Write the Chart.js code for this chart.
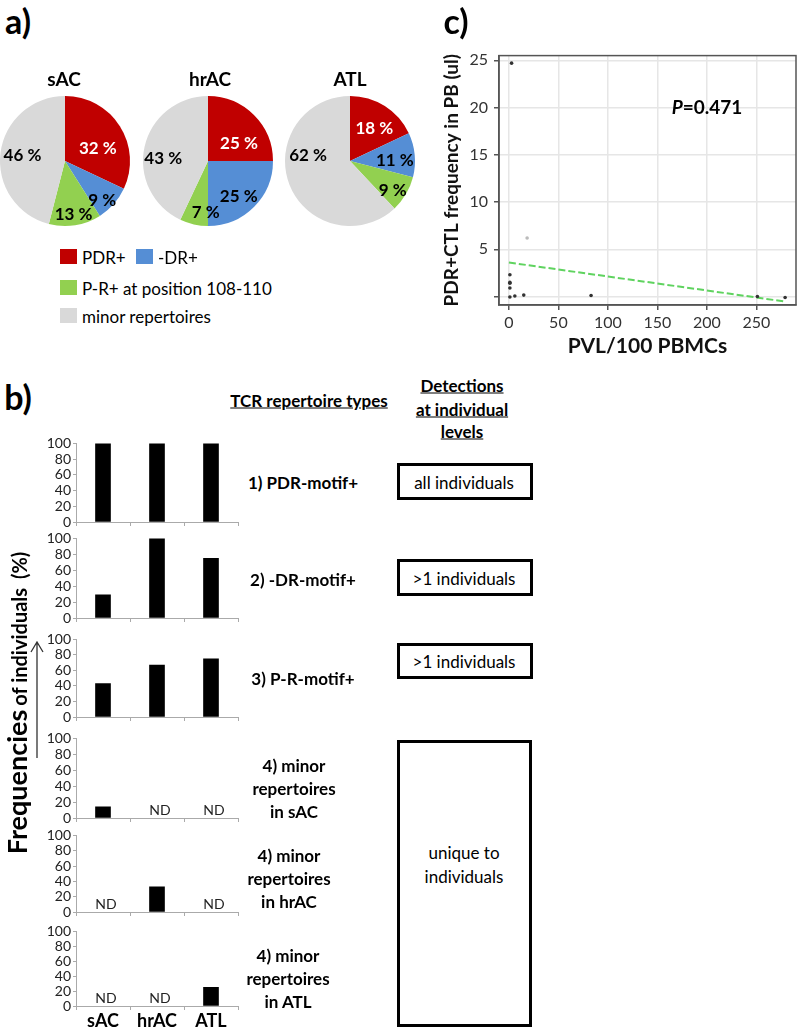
<!DOCTYPE html>
<html>
<head>
<meta charset="utf-8">
<script src="https://cdn.jsdelivr.net/npm/chart.js@4"></script>
<style>
  body { margin: 0; background: #fff; font-family: Lato, sans-serif; }
  #page { position: relative; width: 800px; height: 1029px; overflow: hidden; }
  canvas { position: absolute; }
  .t { position: absolute; transform: translate(-50%, -50%); white-space: nowrap; color: #000; line-height: 1; }
  .b { font-weight: bold; }
  .u { text-decoration: underline; }
  .box { position: absolute; border: 3px solid #000; box-sizing: border-box; }
  .sw { position: absolute; width: 17px; height: 15px; }
</style>
</head>
<body>
<div id="page"></div>
<script>
// ---- panel a: repertoire shares (%) ----
const groups = ['sAC', 'hrAC', 'ATL'];
const sliceLabels = ['PDR+', '-DR+', 'P-R+ at position 108-110', 'minor repertoires'];
const sacShares = [32, 9, 13, 46];
const hracShares = [25, 25, 7, 43];
const atlShares = [18, 11, 9, 62];

// ---- panel b: frequencies of individuals (%), null = ND ----
const pdrFreq = [100, 100, 100];
const drFreq = [29, 100, 75];
const prFreq = [43, 67, 75];
const minorSacFreq = [14, null, null];
const minorHracFreq = [null, 33, null];
const minorAtlFreq = [null, null, 25];
const freqTicks = [0, 20, 40, 60, 80, 100];

// ---- panel c: PVL vs PDR+ CTL frequency ----
const pvl = [2.7, 1, 1, 1, 1, 1, 6, 15, 18.4, 83, 251, 279];
const ctlFreq = [24.7, 2.3, 1.5, 1.4, 0.9, -0.05, 0.05, 0.15, 6.2, 0.1, 0, -0.1];
const fitPvl = [0, 280];
const fitFreq = [3.6, -0.55];
const pvlTicks = [0, 50, 100, 150, 200, 250];
const ctlTicks = [0, 5, 10, 15, 20, 25];

const sliceColors = ['#c00000', '#558ed5', '#92d050', '#d9d9d9'];

Chart.defaults.font.family = 'Lato';

var page = document.getElementById('page');

var makeCanvas = function (left, top, w, h) {
    var c = document.createElement('canvas');
    c.width = w;
    c.height = h;
    c.style.left = left + 'px';
    c.style.top = top + 'px';
    page.appendChild(c);
    return c;
};

var addText = function (x, y, html, cls, css) {
    var d = document.createElement('div');
    d.className = 't ' + (cls || '');
    d.innerHTML = html;
    d.style.left = x + 'px';
    d.style.top = y + 'px';
    if (css) d.style.cssText += css;
    page.appendChild(d);
    return d;
};

// percent labels inside the slices, [radius fraction, angle shift in deg]
const sliceText = {
    id: 'sliceText',
    afterDatasetsDraw(chart, args, opts) {
        var ctx = chart.ctx;
        var values = chart.data.datasets[0].data;
        ctx.save();
        ctx.font = 'bold 17px Lato';
        ctx.textAlign = 'center';
        ctx.textBaseline = 'middle';
        chart.getDatasetMeta(0).data.forEach(function (arc, i) {
            var p = arc.getProps(['x', 'y', 'startAngle', 'endAngle', 'outerRadius'], true);
            var spot = opts.spots[i];
            var a = (p.startAngle + p.endAngle) / 2 + spot[1] * Math.PI / 180;
            var r = p.outerRadius * spot[0];
            ctx.fillStyle = i === 0 ? '#fff' : '#000';
            ctx.fillText(values[i] + ' %', p.x + Math.cos(a) * r, p.y + Math.sin(a) * r);
        });
        ctx.restore();
    }
};

var createPie = function (cx, cy, shares, spots) {
    return new Chart(makeCanvas(cx - 75, cy - 75, 150, 150), {
        type: 'pie',
        data: {
            labels: sliceLabels,
            datasets: [{ data: shares, backgroundColor: sliceColors, borderWidth: 0, hoverOffset: 0 }]
        },
        options: {
            responsive: false,
            animation: false,
            layout: { padding: 10 },
            plugins: { legend: { display: false }, tooltip: { enabled: false }, sliceText: { spots: spots } }
        },
        plugins: [sliceText]
    });
};

createPie(65, 161, sacShares, [[0.54, 12], [0.83, 5], [0.84, 0], [0.66, 0]]);
createPie(208, 161, hracShares, [[0.55, 15], [0.72, 4], [0.79, -10], [0.69, -9]]);
createPie(350, 161, atlShares, [[0.63, 4], [0.69, 5], [0.8, 4], [0.65, 29]]);

addText(18, 21, 'a)', 'b', 'font-size:34px');
addText(64, 78, groups[0], 'b', 'font-size:19px');
addText(210, 78, groups[1], 'b', 'font-size:19px');
addText(350, 78, groups[2], 'b', 'font-size:19px');

// legend
var legendSpots = [[60, 249], [136, 249], [60, 280], [60, 308]];
sliceLabels.forEach(function (lab, i) {
    var sw = document.createElement('div');
    sw.className = 'sw';
    sw.style.left = legendSpots[i][0] + 'px';
    sw.style.top = legendSpots[i][1] + 'px';
    sw.style.background = sliceColors[i];
    page.appendChild(sw);
    addText(legendSpots[i][0] + 22, legendSpots[i][1] + 8, lab, '', 'font-size:17px;transform:translate(0,-50%)');
});

// ---- panel c ----
const frameBox = {
    id: 'frameBox',
    afterDraw(chart) {
        var a = chart.chartArea, ctx = chart.ctx;
        ctx.save();
        ctx.strokeStyle = '#555';
        ctx.lineWidth = 1.5;
        ctx.strokeRect(a.left, a.top, a.right - a.left, a.bottom - a.top);
        ctx.restore();
    }
};

new Chart(makeCanvas(430, 40, 370, 320), {
    type: 'scatter',
    data: {
        datasets: [{
            data: pvl.map(function (v, i) { return { x: v, y: ctlFreq[i] }; }),
            pointRadius: 1.8,
            pointBorderWidth: 0,
            pointBackgroundColor: pvl.map(function (v, i) { return i === 8 ? '#bbb' : '#333'; })
        }, {
            type: 'line',
            data: fitPvl.map(function (v, i) { return { x: v, y: fitFreq[i] }; }),
            borderColor: '#5fd35f',
            borderWidth: 2,
            borderDash: [7, 3],
            pointRadius: 0,
            fill: false
        }]
    },
    options: {
        responsive: false,
        animation: false,
        layout: { padding: { top: 12, right: 2 } },
        plugins: { legend: { display: false }, tooltip: { enabled: false } },
        scales: {
            x: {
                type: 'linear', min: -10, max: 290,
                afterBuildTicks: function (s) { s.ticks = pvlTicks.map(function (v) { return { value: v }; }); },
                grid: { color: '#e6e6e6', lineWidth: 1.5, tickLength: 5, tickColor: '#555' },
                border: { color: '#555', width: 1.5 },
                ticks: { font: { size: 16 }, color: '#333', padding: 3, maxRotation: 0, autoSkip: false },
                title: { display: true, text: 'PVL/100 PBMCs', color: '#111', font: { size: 21, weight: 'bold' }, padding: { top: 0, bottom: 1 } },
                afterFit: function (s) { s.height = 55; }
            },
            y: {
                type: 'linear', min: -0.9, max: 25.5,
                afterBuildTicks: function (s) { s.ticks = ctlTicks.map(function (v) { return { value: v }; }); },
                grid: { color: '#e6e6e6', lineWidth: 1.5, tickLength: 5, tickColor: '#555' },
                border: { color: '#555', width: 1.5 },
                ticks: { font: { size: 16 }, color: '#333', padding: 6, autoSkip: false, callback: function (v) { return v === 0 ? '' : v; } },
                title: { display: true, text: 'PDR+CTL frequency in PB (ul)', color: '#111', font: { size: 19, weight: 'bold' }, padding: { top: 10, bottom: 0 } },
                afterFit: function (s) { s.width = 69; }
            }
        }
    },
    plugins: [frameBox]
});

addText(456, 21, 'c)', 'b', 'font-size:34px');
addText(707, 106, '<i>P</i>=0.471', 'b', 'font-size:19px');

// ---- panel b ----
const notDetected = {
    id: 'notDetected',
    afterDatasetsDraw(chart) {
        var ctx = chart.ctx;
        var xs = chart.scales.x, ys = chart.scales.y;
        ctx.save();
        ctx.font = '14px Lato';
        ctx.fillStyle = '#222';
        ctx.textAlign = 'center';
        ctx.textBaseline = 'bottom';
        chart.data.datasets[0].data.forEach(function (v, i) {
            if (v === null) ctx.fillText('ND', xs.getPixelForValue(i) + 3, ys.getPixelForValue(0) - 1);
        });
        ctx.restore();
    }
};

var createBars = function (top100, zero, values, last) {
    var xh = last ? 23 : 5;
    return new Chart(makeCanvas(0, top100 - 9, 245, 9 + (zero - top100) + xh + (last ? 0 : 8)), {
        type: 'bar',
        data: { labels: groups, datasets: [{ data: values, backgroundColor: '#000', barThickness: 15 }] },
        options: {
            responsive: false,
            animation: false,
            layout: { padding: { top: 9, right: 7, bottom: last ? 0 : 8 } },
            plugins: { legend: { display: false }, tooltip: { enabled: false } },
            scales: {
                x: {
                    grid: { display: true, drawOnChartArea: false, tickLength: 4, color: '#aaa', offset: true },
                    border: { color: '#aaa' },
                    ticks: { display: last, color: '#000', font: { size: 18, weight: 'bold' }, padding: 0 },
                    afterFit: function (s) { s.height = xh; }
                },
                y: {
                    min: 0, max: 100,
                    afterBuildTicks: function (s) { s.ticks = freqTicks.map(function (v) { return { value: v }; }); },
                    grid: { drawOnChartArea: false, tickLength: 3, color: '#aaa' },
                    border: { color: '#aaa' },
                    ticks: { color: '#222', font: { size: 14 }, padding: 2, autoSkip: false },
                    afterFit: function (s) { s.width = 76; }
                }
            }
        },
        plugins: [notDetected]
    });
};

createBars(442, 522, pdrFreq, false);
createBars(537, 618, drFreq, false);
createBars(638, 717, prFreq, false);
createBars(737, 818, minorSacFreq, false);
createBars(834, 912, minorHracFreq, false);
createBars(930, 1006, minorAtlFreq, true);

addText(18, 397, 'b)', 'b', 'font-size:34px');
addText(16, 703, '<span style="font-size:27px">Frequencies</span> <span style="font-size:20px">of individuals</span> <span style="font-size:20px">&nbsp;(%)</span>', 'b', 'transform:translate(-50%,-50%) rotate(-90deg)');

var svg = document.createElementNS('http://www.w3.org/2000/svg', 'svg');
svg.setAttribute('width', '60');
svg.setAttribute('height', '800');
svg.style.cssText = 'position:absolute;left:0;top:0';
svg.innerHTML = '<path d="M37 758 L37 642 M31 652 L37 642 L43 652" stroke="#333" stroke-width="1.3" fill="none"/>';
page.appendChild(svg);

addText(309, 400, 'TCR repertoire types', 'b u', 'font-size:17px');
addText(462, 385, 'Detections', 'b u', 'font-size:17px');
addText(462, 409, 'at individual', 'b u', 'font-size:17px');
addText(462, 431, 'levels', 'b u', 'font-size:17px');

addText(303, 482, '1) PDR-motif+', 'b', 'font-size:17px');
addText(303, 579, '2) -DR-motif+', 'b', 'font-size:17px');
addText(303, 678, '3) P-R-motif+', 'b', 'font-size:17px');
addText(294, 788, '4) minor<br>repertoires<br>in sAC', 'b', 'font-size:17px;text-align:center;line-height:23px');
addText(289, 878, '4) minor<br>repertoires<br>in hrAC', 'b', 'font-size:17px;text-align:center;line-height:23px');
addText(288, 978, '4) minor<br>repertoires<br>in ATL', 'b', 'font-size:17px;text-align:center;line-height:23px');

var addBox = function (left, top, w, h) {
    var d = document.createElement('div');
    d.className = 'box';
    d.style.left = left + 'px';
    d.style.top = top + 'px';
    d.style.width = w + 'px';
    d.style.height = h + 'px';
    page.appendChild(d);
};
addBox(397, 463, 136, 37);
addBox(397, 559, 136, 37);
addBox(397, 643, 136, 36);
addBox(397, 740, 135, 287);
addText(464, 482, 'all individuals', '', 'font-size:17px');
addText(464, 578, '&gt;1 individuals', '', 'font-size:17px');
addText(464, 661, '&gt;1 individuals', '', 'font-size:17px');
addText(464, 865, 'unique to<br>individuals', '', 'font-size:17px;text-align:center;line-height:24px');
</script>
</body>
</html>
